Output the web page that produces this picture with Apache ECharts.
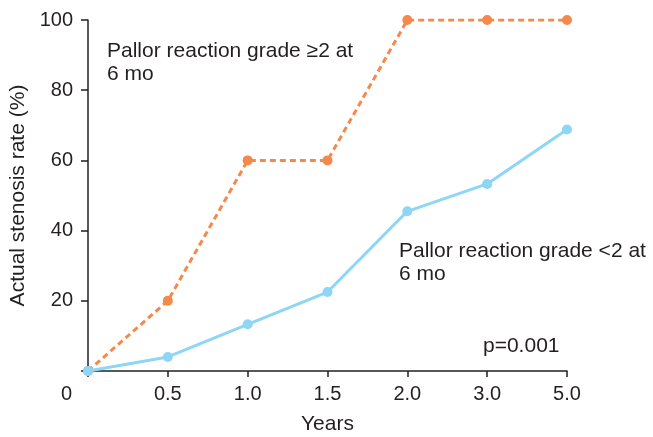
<!DOCTYPE html>
<html>
<head>
<meta charset="utf-8">
<script src="https://cdn.jsdelivr.net/npm/echarts@6/dist/echarts.min.js"></script>
<style>
  html, body { margin: 0; padding: 0; background: #fff; }
  #chart { width: 653px; height: 437px; }
</style>
</head>
<body>
<div id="chart"></div>
<script>
const years = ["0", "0.5", "1.0", "1.5", "2.0", "3.0", "5.0"];
const gradeHigh = [0, 20, 60, 60, 100, 100, 100];
const gradeLow = [0, 4, 13.3, 22.5, 45.5, 53.3, 68.8];
const yTicks = [0, 20, 40, 60, 80, 100];

const font = "'Liberation Sans', Arial, sans-serif";
const textColor = "#231f20";

const chart = echarts.init(document.getElementById("chart"));
const option = {
  animation: false,
  textStyle: { fontFamily: font },
  grid: { left: 88, right: 86, top: 20, bottom: 66, outerBoundsMode: "none" },
  xAxis: {
    type: "category",
    data: years,
    boundaryGap: false,
    name: "Years",
    nameLocation: "middle",
    nameGap: 43,
    nameTextStyle: { fontSize: 21, color: textColor, fontFamily: font },
    axisLine: { lineStyle: { color: textColor, width: 1.5 } },
    axisTick: { alignWithLabel: true, length: 6, lineStyle: { color: textColor, width: 1.5 } },
    axisLabel: {
      fontSize: 20,
      color: textColor,
      margin: 13,
      fontFamily: font,
      formatter: (v) => (v === "0" ? "" : v),
    },
  },
  yAxis: {
    type: "value",
    min: yTicks[0],
    max: yTicks[yTicks.length - 1],
    interval: 20,
    name: "Actual stenosis rate (%)",
    nameLocation: "middle",
    nameGap: 58,
    nameTextStyle: { fontSize: 21, color: textColor, fontFamily: font },
    splitLine: { show: false },
    axisLine: { show: true, lineStyle: { color: textColor, width: 1.5 } },
    axisTick: { show: true, inside: false, length: 7, lineStyle: { color: textColor, width: 1.5 } },
    axisLabel: {
      fontSize: 20,
      color: textColor,
      margin: 15,
      fontFamily: font,
      formatter: (v) => (v === 0 ? "" : v),
    },
  },
  series: [
    {
      name: "Pallor reaction grade ≥2 at 6 mo",
      type: "line",
      data: gradeHigh,
      symbol: "circle",
      symbolSize: 10,
      lineStyle: { color: "#f5894b", width: 3, type: [6, 4] },
      itemStyle: { color: "#f5894b" },
      z: 2,
    },
    {
      name: "Pallor reaction grade <2 at 6 mo",
      type: "line",
      data: gradeLow,
      symbol: "circle",
      symbolSize: 10,
      lineStyle: { color: "#8dd6f5", width: 3 },
      itemStyle: { color: "#8dd6f5" },
      z: 3,
    },
  ],
  graphic: [
    {
      type: "text",
      left: 61,
      top: 384,
      style: { text: "0", fontSize: 20, fill: textColor, fontFamily: font },
    },
    {
      type: "text",
      left: 107,
      top: 40,
      style: {
        text: "Pallor reaction grade ≥2 at\n6 mo",
        fontSize: 21,
        lineHeight: 23,
        fill: textColor,
        fontFamily: font,
      },
    },
    {
      type: "text",
      left: 399,
      top: 240,
      style: {
        text: "Pallor reaction grade <2 at\n6 mo",
        fontSize: 21,
        lineHeight: 23,
        fill: textColor,
        fontFamily: font,
      },
    },
    {
      type: "text",
      left: 483,
      top: 336,
      style: { text: "p=0.001", fontSize: 21, fill: textColor, fontFamily: font },
    },
  ],
};
chart.setOption(option);
</script>
</body>
</html>
